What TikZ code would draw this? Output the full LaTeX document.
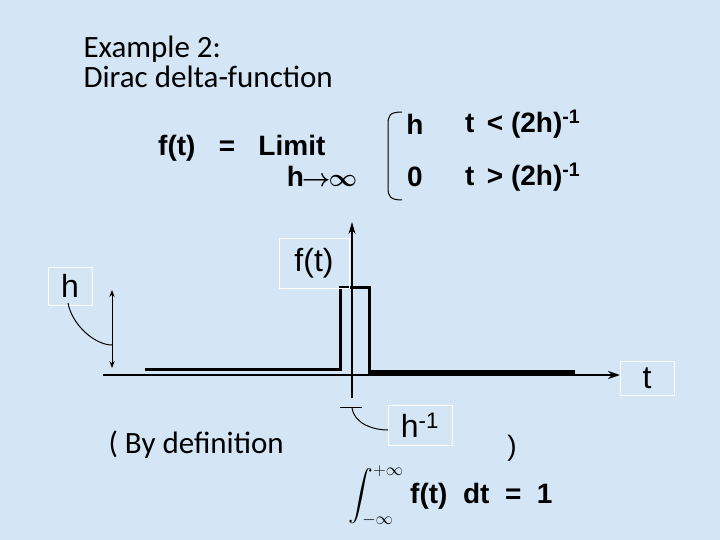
\documentclass[tikz,border=0pt]{standalone}
\usepackage{fontspec}
\setmainfont{Carlito}
\newfontfamily\arialf{Liberation Sans}
\usepackage{amsmath}
\usetikzlibrary{arrows.meta}
\definecolor{bgc}{RGB}{212,230,246}
\begin{document}
\begin{tikzpicture}[x=1pt,y=-1pt,
  ar/.style={font=\arialf\bfseries\fontsize{28}{32}\selectfont,inner sep=0},
  lbl/.style={draw=white,thin,font=\arialf\fontsize{32}{34}\selectfont,inner sep=3pt}]
\fill[bgc] (0,0) rectangle (720,540);
\useasboundingbox (0,0) rectangle (720,540);
\node[anchor=west,font=\fontsize{31}{30}\selectfont,align=left] (title) at (80,62) {Example 2:\\Dirac delta-function};
\node[ar,anchor=west] (ft) at (158,148) {f(t)\ \ \ =\ \ \ Limit};
\node[ar] (hinf) at (322,176) {h\kern-2pt$\boldsymbol{\rightarrow}$\kern-2pt$\boldsymbol{\infty}$};
\draw[line width=1pt] (402,112) .. controls (389,112) and (388,116) .. (388,125) -- (388,188) .. controls (388,196) and (390,200) .. (402,200);
\node[ar] (h1) at (415,124) {h};
\node[ar] (z1) at (415,177) {0};
\node[ar,anchor=west] (c1) at (465,124) {t\, < (2h)$^{\text{-1}}$};
\node[ar,anchor=west] (c2) at (465,177) {t\, > (2h)$^{\text{-1}}$};
% axes
\coordinate (xa) at (103,375); \coordinate (xb) at (620,375);
\draw[line width=2.5pt,-{Stealth[length=12pt,width=8pt]}] (xa) -- (xb);
\coordinate (ya) at (352,398); \coordinate (yb) at (352,222);
\draw[line width=1.5pt,-{Stealth[length=12pt,width=7pt]}] (ya) -- (yb);
\draw[line width=3pt] (145,369) -- (340,369) -- (340,287) -- (369,287) -- (369,373) -- (575,373);
\draw[line width=5pt] (369,372) -- (575,372);
% h arrow
\coordinate (ha) at (112,290); \coordinate (hb) at (112,368);
\draw[line width=1pt,{Stealth[length=7pt]}-{Stealth[length=7pt]}] (ha) -- (hb);
\node[lbl,minimum width=44pt,minimum height=38pt] (hl) at (70,286) {h};
\draw[line width=1pt] (68,303) .. controls (72,325) and (95,345) .. (112,345);
\node[lbl,minimum width=70pt,minimum height=50pt] (ftl) at (314,263) {f(t)};
\node[lbl,minimum width=54pt,minimum height=34pt] (tl) at (647,378) {t};
\node[lbl,minimum width=64pt,minimum height=40pt] (hinv) at (420,425) {h$^{\text{-1}}$};
\draw[line width=1pt] (340,407) -- (362,407);
\draw[line width=1pt] (352,408) .. controls (355,425) and (375,430) .. (388,430);
\node[anchor=west,font=\fontsize{31}{30}\selectfont] (def) at (105,445) {( By definition};
\node[font=\arialf\fontsize{28}{30}\selectfont] (rp) at (512,448) {)};
\node[font=\fontsize{26}{30}\selectfont,inner sep=0] (intg) at (376,496) {$\displaystyle\int_{-\infty}^{+\infty}$};
\node[ar,anchor=west] (integ) at (410,496) {f(t)\ \ dt\ \ =\ \ 1};
\end{tikzpicture}
\end{document}
